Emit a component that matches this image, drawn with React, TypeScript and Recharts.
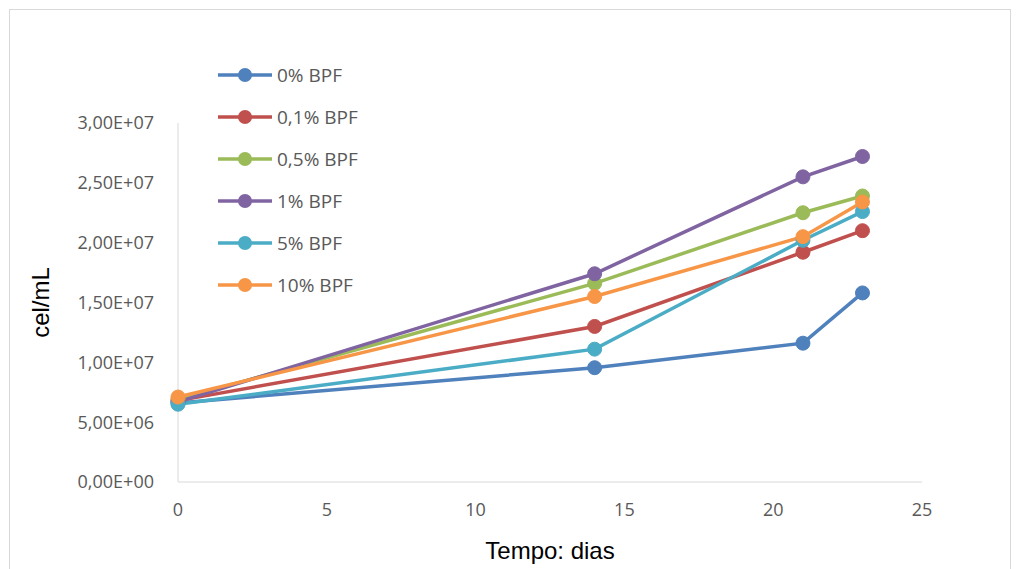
import React from 'react';
import { LineChart, Line, XAxis, YAxis, Label } from 'recharts';

const dias = [0, 14, 21, 23];
const bpf0 = [6.6e6, 9.55e6, 1.16e7, 1.58e7];
const bpf01 = [6.8e6, 1.3e7, 1.92e7, 2.1e7];
const bpf05 = [6.9e6, 1.66e7, 2.25e7, 2.39e7];
const bpf1 = [6.7e6, 1.74e7, 2.55e7, 2.72e7];
const bpf5 = [6.5e6, 1.11e7, 2.02e7, 2.26e7];
const bpf10 = [7.1e6, 1.55e7, 2.05e7, 2.34e7];
const xTicks = [0, 5, 10, 15, 20, 25];
const yTicks = [0, 5e6, 1e7, 1.5e7, 2e7, 2.5e7, 3e7];

const series = [
  { key: 'bpf0', name: '0% BPF', color: '#4F81BD', values: bpf0 },
  { key: 'bpf01', name: '0,1% BPF', color: '#C0504D', values: bpf01 },
  { key: 'bpf05', name: '0,5% BPF', color: '#9BBB59', values: bpf05 },
  { key: 'bpf1', name: '1% BPF', color: '#8064A2', values: bpf1 },
  { key: 'bpf5', name: '5% BPF', color: '#4BACC6', values: bpf5 },
  { key: 'bpf10', name: '10% BPF', color: '#F79646', values: bpf10 },
];

const data = dias.map((d, i) => {
  const row: Record<string, number> = { dia: d };
  series.forEach((s) => (row[s.key] = s.values[i]));
  return row;
});

const fmtSci = (v: number) => {
  const [m, e] = Number(v).toExponential(2).split('e');
  const exp = parseInt(e, 10);
  const sign = exp < 0 ? '-' : '+';
  return `${m.replace('.', ',')}E${sign}${String(Math.abs(exp)).padStart(2, '0')}`;
};

const FONT = '"Open Sans", Lato, sans-serif';
const TITLE_FONT = '"Liberation Sans", Arial, sans-serif';

// legend drawn as plain html so it doesn't eat into the plot area
const LegendBox = () => (
  <div style={{ position: 'absolute', left: 218, top: 54, fontFamily: FONT }}>
    {series.map((s) => (
      <div key={s.key} style={{ display: 'flex', alignItems: 'center', height: 42 }}>
        <svg width={59} height={16}>
          <line x1={0} y1={8} x2={54} y2={8} stroke={s.color} strokeWidth={3.5} />
          <circle cx={27} cy={8} r={7} fill={s.color} />
        </svg>
        <span style={{ fontSize: 19, color: '#595959' }}>{s.name}</span>
      </div>
    ))}
  </div>
);

export default function App() {
  return (
    <div style={{ position: 'absolute', left: 0, top: 0, width: 1018, height: 569, background: '#fff', overflow: 'hidden' }}>
      <div
        style={{
          position: 'absolute',
          left: 9,
          top: 9,
          width: 1000,
          height: 600,
          border: '1px solid #D9D9D9',
        }}
      />
      <LineChart
        width={1018}
        height={569}
        data={data}
        margin={{ top: 123, right: 96, left: 0, bottom: 20 }}
        style={{ position: 'absolute', left: 0, top: 0 }}
      >
        <XAxis
          dataKey="dia"
          type="number"
          domain={[0, 25]}
          ticks={xTicks}
          height={67}
          stroke="#D9D9D9"
          tickLine={false}
          tickSize={6}
          tickMargin={15}
          tick={{ fill: '#595959', fontSize: 18, fontFamily: FONT }}
        >
          <Label
            value="Tempo: dias"
            position="insideBottom"
            offset={-10}
            style={{ fill: '#000', fontSize: 24, fontFamily: TITLE_FONT }}
          />
        </XAxis>
        <YAxis
          type="number"
          domain={[0, 3e7]}
          ticks={yTicks}
          width={178}
          stroke="#D9D9D9"
          tickLine={false}
          tickSize={6}
          tickMargin={18}
          tickFormatter={fmtSci}
          tick={{ fill: '#595959', fontSize: 18, fontFamily: FONT }}
        >
          <Label
            value="cel/mL"
            angle={-90}
            position="insideLeft"
            offset={40}
            style={{ textAnchor: 'middle', fill: '#000', fontSize: 24, fontFamily: TITLE_FONT }}
          />
        </YAxis>
        {series.map((s) => (
          <Line
            key={s.key}
            dataKey={s.key}
            name={s.name}
            stroke={s.color}
            strokeWidth={3.5}
            dot={{ r: 7, fill: s.color, stroke: s.color, strokeWidth: 1 }}
            activeDot={false}
            isAnimationActive={false}
          />
        ))}
      </LineChart>
      <LegendBox />
    </div>
  );
}
